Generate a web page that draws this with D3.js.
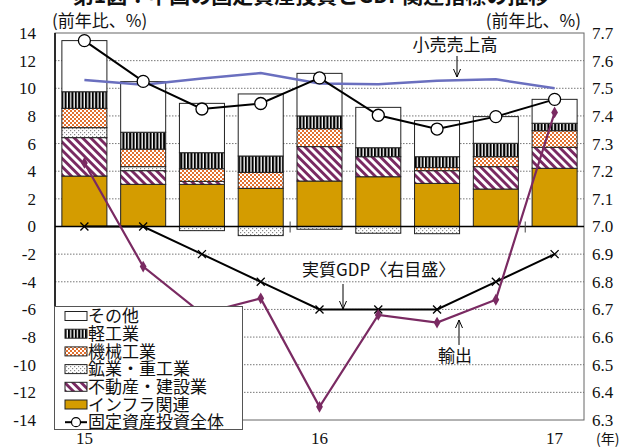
<!DOCTYPE html>
<html>
<head>
<meta charset="utf-8">
<script src="https://cdn.jsdelivr.net/npm/d3@7"></script>
<style>
  body { margin: 0; background: #fff; }
  svg { display: block; }
  text { font-family: "Noto Sans CJK JP", sans-serif; fill: #111; }
  .num { font-family: "Liberation Serif", "Times New Roman", serif; }
</style>
</head>
<body>
<svg id="chart" width="623" height="447"></svg>
<script>
// quarters 2015Q1 .. 2017Q1
const quarters = ['15Q1','15Q2','15Q3','15Q4','16Q1','16Q2','16Q3','16Q4','17Q1'];
const yearLabels = [['15Q1','15'], ['16Q1','16'], ['17Q1','17']];

// contributions (left axis, %)
const infra      = [3.65, 3.05, 3.05, 2.76, 3.29, 3.60, 3.12, 2.71, 4.21];
const realEstate = [2.78, 0.99, 0.22, 0.00, 2.49, 1.45, 0.92, 1.62, 1.52];
const mining     = [0.72, 0.29, -0.30, -0.66, -0.20, -0.49, -0.52, 0.00, 0.00];
const machinery  = [1.40, 1.27, 0.91, 1.16, 1.30, 0.00, 0.22, 0.72, 1.20];
const light      = [1.20, 1.22, 1.16, 1.18, 0.92, 0.65, 0.79, 0.97, 0.54];
const other      = [3.70, 3.66, 3.57, 4.49, 3.08, 2.92, 2.61, 1.93, 1.73];

const total   = [13.45, 10.5, 8.5, 8.9, 10.75, 8.05, 7.05, 7.95, 9.2];
const retail  = [10.6, 10.25, 10.7, 11.1, 10.35, 10.3, 10.55, 10.65, 10.0];
const exports = [4.6, -2.9, -6.3, -5.2, -13.05, -6.4, -6.95, -5.3, 8.25];
const gdp     = [7.0, 7.0, 6.9, 6.8, 6.7, 6.7, 6.7, 6.8, 6.9]; // right axis

const leftTicks = d3.range(-14, 15, 2);
const rightTicks = d3.range(6.3, 7.71, 0.1);

const seriesKeys = ['infra','realEstate','mining','machinery','light','other'];
const seriesNames = {
  other: 'その他', light: '軽工業', machinery: '機械工業',
  mining: '鉱業・重工業', realEstate: '不動産・建設業', infra: 'インフラ関連'
};

const rows = quarters.map((q, i) => ({
  q: q, infra: infra[i], realEstate: realEstate[i], mining: mining[i],
  machinery: machinery[i], light: light[i], other: other[i]
}));

const svg = d3.select('#chart');
const L = 55, R = 584, T = 33, B = 420;

const x = d3.scaleBand().domain(quarters).range([L, R]).paddingInner(0.234).paddingOuter(0.117);
const y = d3.scaleLinear().domain([-14, 14]).range([B, T]);
const y2 = d3.scaleLinear().domain([6.3, 7.7]).range([B, T]);
const cx = q => x(q) + x.bandwidth() / 2;

// patterns
const defs = svg.append('defs');
let p = defs.append('pattern').attr('id','pLight').attr('patternUnits','userSpaceOnUse').attr('width',3.4).attr('height',4);
p.append('rect').attr('width',3.4).attr('height',4).attr('fill','#fff');
p.append('rect').attr('width',2.1).attr('height',4).attr('fill','#000');

p = defs.append('pattern').attr('id','pMach').attr('patternUnits','userSpaceOnUse').attr('width',4).attr('height',4);
p.append('rect').attr('width',4).attr('height',4).attr('fill','#fff');
p.append('rect').attr('width',2).attr('height',2).attr('fill','#e2702e');
p.append('rect').attr('x',2).attr('y',2).attr('width',2).attr('height',2).attr('fill','#e2702e');

p = defs.append('pattern').attr('id','pMining').attr('patternUnits','userSpaceOnUse').attr('width',4).attr('height',4);
p.append('rect').attr('width',4).attr('height',4).attr('fill','#fff');
p.append('rect').attr('x',0).attr('y',0).attr('width',1.2).attr('height',1.2).attr('fill','#888');
p.append('rect').attr('x',2).attr('y',2).attr('width',1.2).attr('height',1.2).attr('fill','#888');

p = defs.append('pattern').attr('id','pRE').attr('patternUnits','userSpaceOnUse').attr('width',5.8).attr('height',8)
  .attr('patternTransform','rotate(-45)');
p.append('rect').attr('width',5.8).attr('height',8).attr('fill','#fff');
p.append('rect').attr('width',2.9).attr('height',8).attr('fill','#7a2a62');

const fills = {
  infra: '#d49c00', realEstate: 'url(#pRE)', mining: 'url(#pMining)',
  machinery: 'url(#pMach)', light: 'url(#pLight)', other: '#fff'
};

// gridlines
svg.append('g').selectAll('line').data(leftTicks.filter(d => d !== 0 && d !== 14 && d !== -14)).join('line')
  .attr('x1', L).attr('x2', R).attr('y1', d => y(d)).attr('y2', d => y(d))
  .attr('stroke', '#777').attr('stroke-width', 1).attr('stroke-dasharray', '1.5,1.5');

// frame
svg.append('rect').attr('x', L).attr('y', T).attr('width', R - L).attr('height', B - T)
  .attr('fill', 'none').attr('stroke', '#666').attr('stroke-width', 1);

// stacked bars
const stack = d3.stack().keys(seriesKeys).offset(d3.stackOffsetDiverging);
const stacked = stack(rows);
svg.append('g').selectAll('g').data(stacked).join('g')
  .attr('fill', s => fills[s.key])
  .selectAll('rect').data(s => s.filter(d => Math.abs(d[1] - d[0]) > 0.001)).join('rect')
  .attr('x', d => x(d.data.q))
  .attr('width', x.bandwidth())
  .attr('y', d => y(Math.max(d[0], d[1])))
  .attr('height', d => Math.abs(y(d[0]) - y(d[1])))
  .attr('stroke', '#222').attr('stroke-width', 1);

// axes lines
svg.append('line').attr('x1', L).attr('x2', R).attr('y1', y(0)).attr('y2', y(0)).attr('stroke', '#000').attr('stroke-width', 1.5);
svg.append('line').attr('x1', L).attr('x2', L).attr('y1', T).attr('y2', B).attr('stroke', '#000').attr('stroke-width', 1.5);

// year separators
svg.append('g').selectAll('line').data(['16Q1','17Q1']).join('line')
  .attr('x1', q => x(q) - x.step() * x.paddingInner() / 2)
  .attr('x2', q => x(q) - x.step() * x.paddingInner() / 2)
  .attr('y1', y(0) - 5).attr('y2', y(0) + 6).attr('stroke', '#444').attr('stroke-width', 1);

// left tick labels
svg.append('g').selectAll('text').data(leftTicks).join('text')
  .attr('class', 'num').attr('x', 36).attr('y', d => y(d)).attr('dy', '0.35em')
  .attr('text-anchor', 'end').attr('font-size', 17).text(d => d);

// right tick labels
svg.append('g').selectAll('text').data(rightTicks).join('text')
  .attr('class', 'num').attr('x', 592).attr('y', d => y2(d)).attr('dy', '0.35em')
  .attr('font-size', 17).text(d => d.toFixed(1));

// x labels
svg.append('g').selectAll('text').data(yearLabels).join('text')
  .attr('class', 'num').attr('x', d => cx(d[0])).attr('y', 444)
  .attr('text-anchor', 'middle').attr('font-size', 17).text(d => d[1]);
svg.append('text').attr('x', 596).attr('y', 444).attr('font-size', 14).text('(年)');

// axis titles
svg.append('text').attr('x', 52).attr('y', 27).attr('font-size', 17).text('(前年比、%)');
svg.append('text').attr('x', 581).attr('y', 27).attr('text-anchor', 'end').attr('font-size', 17).text('(前年比、%)');

// title (cut off at top)
svg.append('text').attr('x', 311).attr('y', 3).attr('text-anchor', 'middle')
  .attr('font-size', 21).attr('font-weight', 'bold').text('第1図：中国の固定資産投資とGDP関連指標の推移');

// GDP line (right axis)
const gdpLine = d3.line().x((d, i) => cx(quarters[i])).y(d => y2(d));
svg.append('path').datum(gdp).attr('d', gdpLine).attr('fill', 'none').attr('stroke', '#000').attr('stroke-width', 2);
svg.append('g').selectAll('path').data(gdp).join('path')
  .attr('transform', (d, i) => `translate(${cx(quarters[i])},${y2(d)})`)
  .attr('d', 'M-4,-4L4,4M-4,4L4,-4').attr('stroke', '#000').attr('stroke-width', 1.3)
  .attr('fill', 'none');

// exports
const leftLine = d3.line().x((d, i) => cx(quarters[i])).y(d => y(d));
svg.append('path').datum(exports).attr('d', leftLine).attr('fill', 'none').attr('stroke', '#7a2a62').attr('stroke-width', 2.2);
svg.append('g').selectAll('path').data(exports).join('path')
  .attr('transform', (d, i) => `translate(${cx(quarters[i])},${y(d)})`)
  .attr('d', d3.symbol(d3.symbolDiamond, 40)).attr('fill', '#7a2a62');

// retail
svg.append('path').datum(retail).attr('d', leftLine).attr('fill', 'none').attr('stroke', '#6a6fbf').attr('stroke-width', 2.5);

// total fixed asset investment
svg.append('path').datum(total).attr('d', leftLine).attr('fill', 'none').attr('stroke', '#000').attr('stroke-width', 2);
svg.append('g').selectAll('circle').data(total).join('circle')
  .attr('cx', (d, i) => cx(quarters[i])).attr('cy', d => y(d)).attr('r', 6)
  .attr('fill', '#fff').attr('stroke', '#000').attr('stroke-width', 1.3);

// annotations
function arrow(x0, y0, y1){
  const dir = y1 > y0 ? 1 : -1;
  svg.append('path')
    .attr('d', `M${x0},${y0}L${x0},${y1}M${x0-3.5},${y1 - dir*8}L${x0},${y1}L${x0+3.5},${y1 - dir*8}`)
    .attr('fill', 'none').attr('stroke', '#000').attr('stroke-width', 1);
}
svg.append('text').attr('x', 455).attr('y', 45).attr('dy', '0.35em').attr('text-anchor', 'middle').attr('font-size', 17).text('小売売上高');
arrow(457, 56, 77);
svg.append('text').attr('x', 302).attr('y', 270).attr('dy', '0.35em').attr('font-size', 17).text('実質GDP〈右目盛〉');
arrow(343, 284, 309);
svg.append('text').attr('x', 455).attr('y', 356).attr('dy', '0.35em').attr('text-anchor', 'middle').attr('font-size', 17).text('輸出');
arrow(459, 345, 320);

// legend
const lg = svg.append('g');
lg.append('rect').attr('x', 54.5).attr('y', 306.5).attr('width', 188).attr('height', 123)
  .attr('fill', '#fff').attr('stroke', '#555').attr('stroke-width', 1);
const legendKeys = ['other','light','machinery','mining','realEstate','infra'];
const ly = i => 316 + i * 17.7;
lg.selectAll('rect.sw').data(legendKeys).join('rect').attr('class', 'sw')
  .attr('x', 65).attr('y', (d, i) => ly(i) - 4.5).attr('width', 22).attr('height', 9)
  .attr('fill', d => fills[d]).attr('stroke', '#222').attr('stroke-width', 1);
lg.selectAll('text.lt').data(legendKeys).join('text').attr('class', 'lt')
  .attr('x', 88).attr('y', (d, i) => ly(i)).attr('dy', '0.36em').attr('font-size', 17)
  .text(d => seriesNames[d]);
lg.append('line').attr('x1', 65).attr('x2', 87).attr('y1', ly(6)).attr('y2', ly(6)).attr('stroke', '#000').attr('stroke-width', 2);
lg.append('circle').attr('cx', 76).attr('cy', ly(6)).attr('r', 4.5).attr('fill', '#fff').attr('stroke', '#000').attr('stroke-width', 1.2);
lg.append('text').attr('x', 88).attr('y', ly(6)).attr('dy', '0.36em').attr('font-size', 17).text('固定資産投資全体');
</script>
</body>
</html>
